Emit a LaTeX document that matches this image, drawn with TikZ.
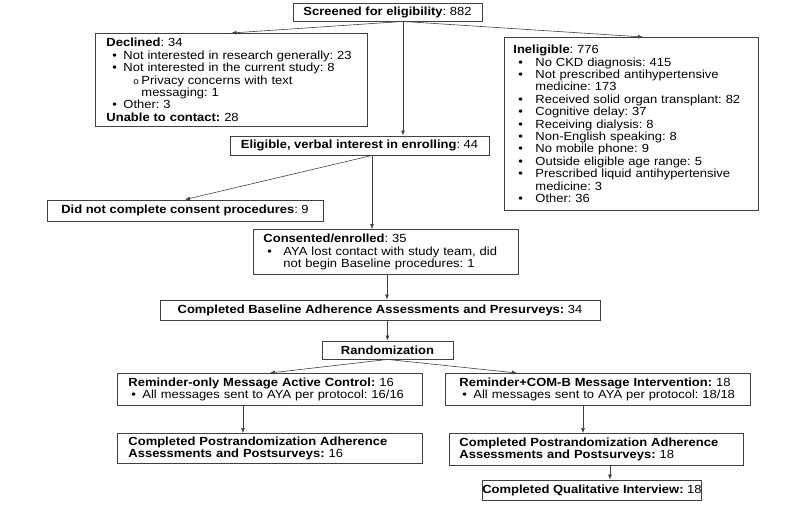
\documentclass[tikz,border=0pt]{standalone}
\usepackage{fontspec}
\setmainfont{Liberation Sans}[FakeStretch=1.1]
\usetikzlibrary{arrows.meta}
\setlength{\parindent}{0pt}
\frenchspacing
\definecolor{bordergray}{rgb}{0.25,0.25,0.25}
\newcommand{\bul}[2]{\hspace*{#1}\makebox[#2][l]{\textbullet}}

\begin{document}
\begin{tikzpicture}[x=1pt,y=-1pt,
    box/.style={draw=bordergray,line width=0.9pt,inner sep=0pt,font=\fontsize{11.8}{12.4}\selectfont},
    lbox/.style={box,anchor=north west,align=left},
    arr/.style={draw=bordergray,line width=0.6pt,-{Latex[length=5pt,width=4pt]}}]
    \useasboundingbox (0,0) rectangle (800,505);
    \node[box,minimum width=189pt,minimum height=18pt] (scr) at (387.5,12) {\textbf{Screened for eligibility}: 882};
    \node[lbox,text width=250pt,inner xsep=11pt,minimum height=93pt] (decl) at (95,33) {\textbf{Declined}: 34\\
        \bul{6pt}{11pt}Not interested in research generally: 23\\
        \bul{6pt}{11pt}Not interested in the current study: 8\\
        \hspace*{27pt}\makebox[8pt][l]{\fontsize{9}{9}\selectfont o}Privacy concerns with text\\
        \hspace*{35pt}messaging: 1\\
        \bul{6pt}{11pt}Other: 3\\
        \textbf{Unable to contact:} 28};
    \node[lbox,text width=236pt,inner xsep=9pt,minimum height=173pt] (inel) at (504,37) {\textbf{Ineligible}: 776\\
        \bul{5pt}{17pt}No CKD diagnosis: 415\\
        \bul{5pt}{17pt}Not prescribed antihypertensive\\
        \hspace*{22pt}medicine: 173\\
        \bul{5pt}{17pt}Received solid organ transplant: 82\\
        \bul{5pt}{17pt}Cognitive delay: 37\\
        \bul{5pt}{17pt}Receiving dialysis: 8\\
        \bul{5pt}{17pt}Non-English speaking: 8\\
        \bul{5pt}{17pt}No mobile phone: 9\\
        \bul{5pt}{17pt}Outside eligible age range: 5\\
        \bul{5pt}{17pt}Prescribed liquid antihypertensive\\
        \hspace*{22pt}medicine: 3\\
        \bul{5pt}{17pt}Other: 36};
    \node[box,minimum width=259pt,minimum height=19pt] (elig) at (359.5,145.5) {\textbf{Eligible, verbal interest in enrolling}: 44};
    \node[box,minimum width=276pt,minimum height=21pt] (dnc) at (185,210.5) {\textbf{Did not complete consent procedures}: 9};
    \node[lbox,text width=245pt,inner xsep=10pt,minimum height=45pt] (cons) at (253,229) {\textbf{Consented/enrolled}: 35\\
        \bul{4pt}{16pt}AYA lost contact with study team, did\\
        \hspace*{20pt}not begin Baseline procedures: 1};
    \node[box,minimum width=440pt,minimum height=20pt] (base) at (380,310) {\textbf{Completed Baseline Adherence Assessments and Presurveys:} 34};
    \node[box,minimum width=131pt,minimum height=18pt] (rand) at (387.5,350) {\textbf{Randomization}};
    \node[lbox,text width=283pt,inner xsep=11pt,minimum height=32pt] (remo) at (117,373) {\textbf{Reminder-only Message Active Control:} 16\\
        \bul{3pt}{11pt}All messages sent to AYA per protocol: 16/16};
    \node[lbox,text width=277pt,inner xsep=14pt,minimum height=32pt] (remc) at (445,373) {\textbf{Reminder+COM-B Message Intervention:} 18\\
        \bul{3pt}{11pt}All messages sent to AYA per protocol: 18/18};
    \node[lbox,text width=283pt,inner xsep=11pt,minimum height=30pt] (postl) at (117,433) {\textbf{Completed Postrandomization Adherence}\\
        \textbf{Assessments and Postsurveys:} 16};
    \node[lbox,text width=274pt,inner xsep=10pt,minimum height=32pt] (postr) at (449,433) {\textbf{Completed Postrandomization Adherence}\\
        \textbf{Assessments and Postsurveys:} 18};
    \node[box,minimum width=210pt,minimum height=20pt] (qual) at (592,490) {\textbf{Completed Qualitative Interview:} 18};
    \coordinate (split) at (scr.south -| 403,0);
    \coordinate (esplit) at (elig.south -| 372,0);
    \draw[arr] (split) -- (decl.north);
    \draw[arr] (split) -- (643,0 |- inel.north);
    \draw[arr] (split) -- (split |- elig.north);
    \draw[arr] (esplit) -- (dnc.north);
    \draw[arr] (esplit) -- (esplit |- cons.north);
    \draw[arr] (cons.south -| 387,0) -- (base.north -| 387,0);
    \draw[arr] (base.south -| rand.south) -- (rand.north);
    \draw[arr] (rand.south) -- (remo.north);
    \draw[arr] (rand.south) -- (remc.north -| 517,0);
    \draw[arr] (remo.south -| 243,0) -- (postl.north -| 243,0);
    \draw[arr] (remc.south -| 583,0) -- (postr.north -| 583,0);
    \draw[arr] (postr.south -| 610,0) -- (qual.north -| 610,0);
\end{tikzpicture}
\end{document}
